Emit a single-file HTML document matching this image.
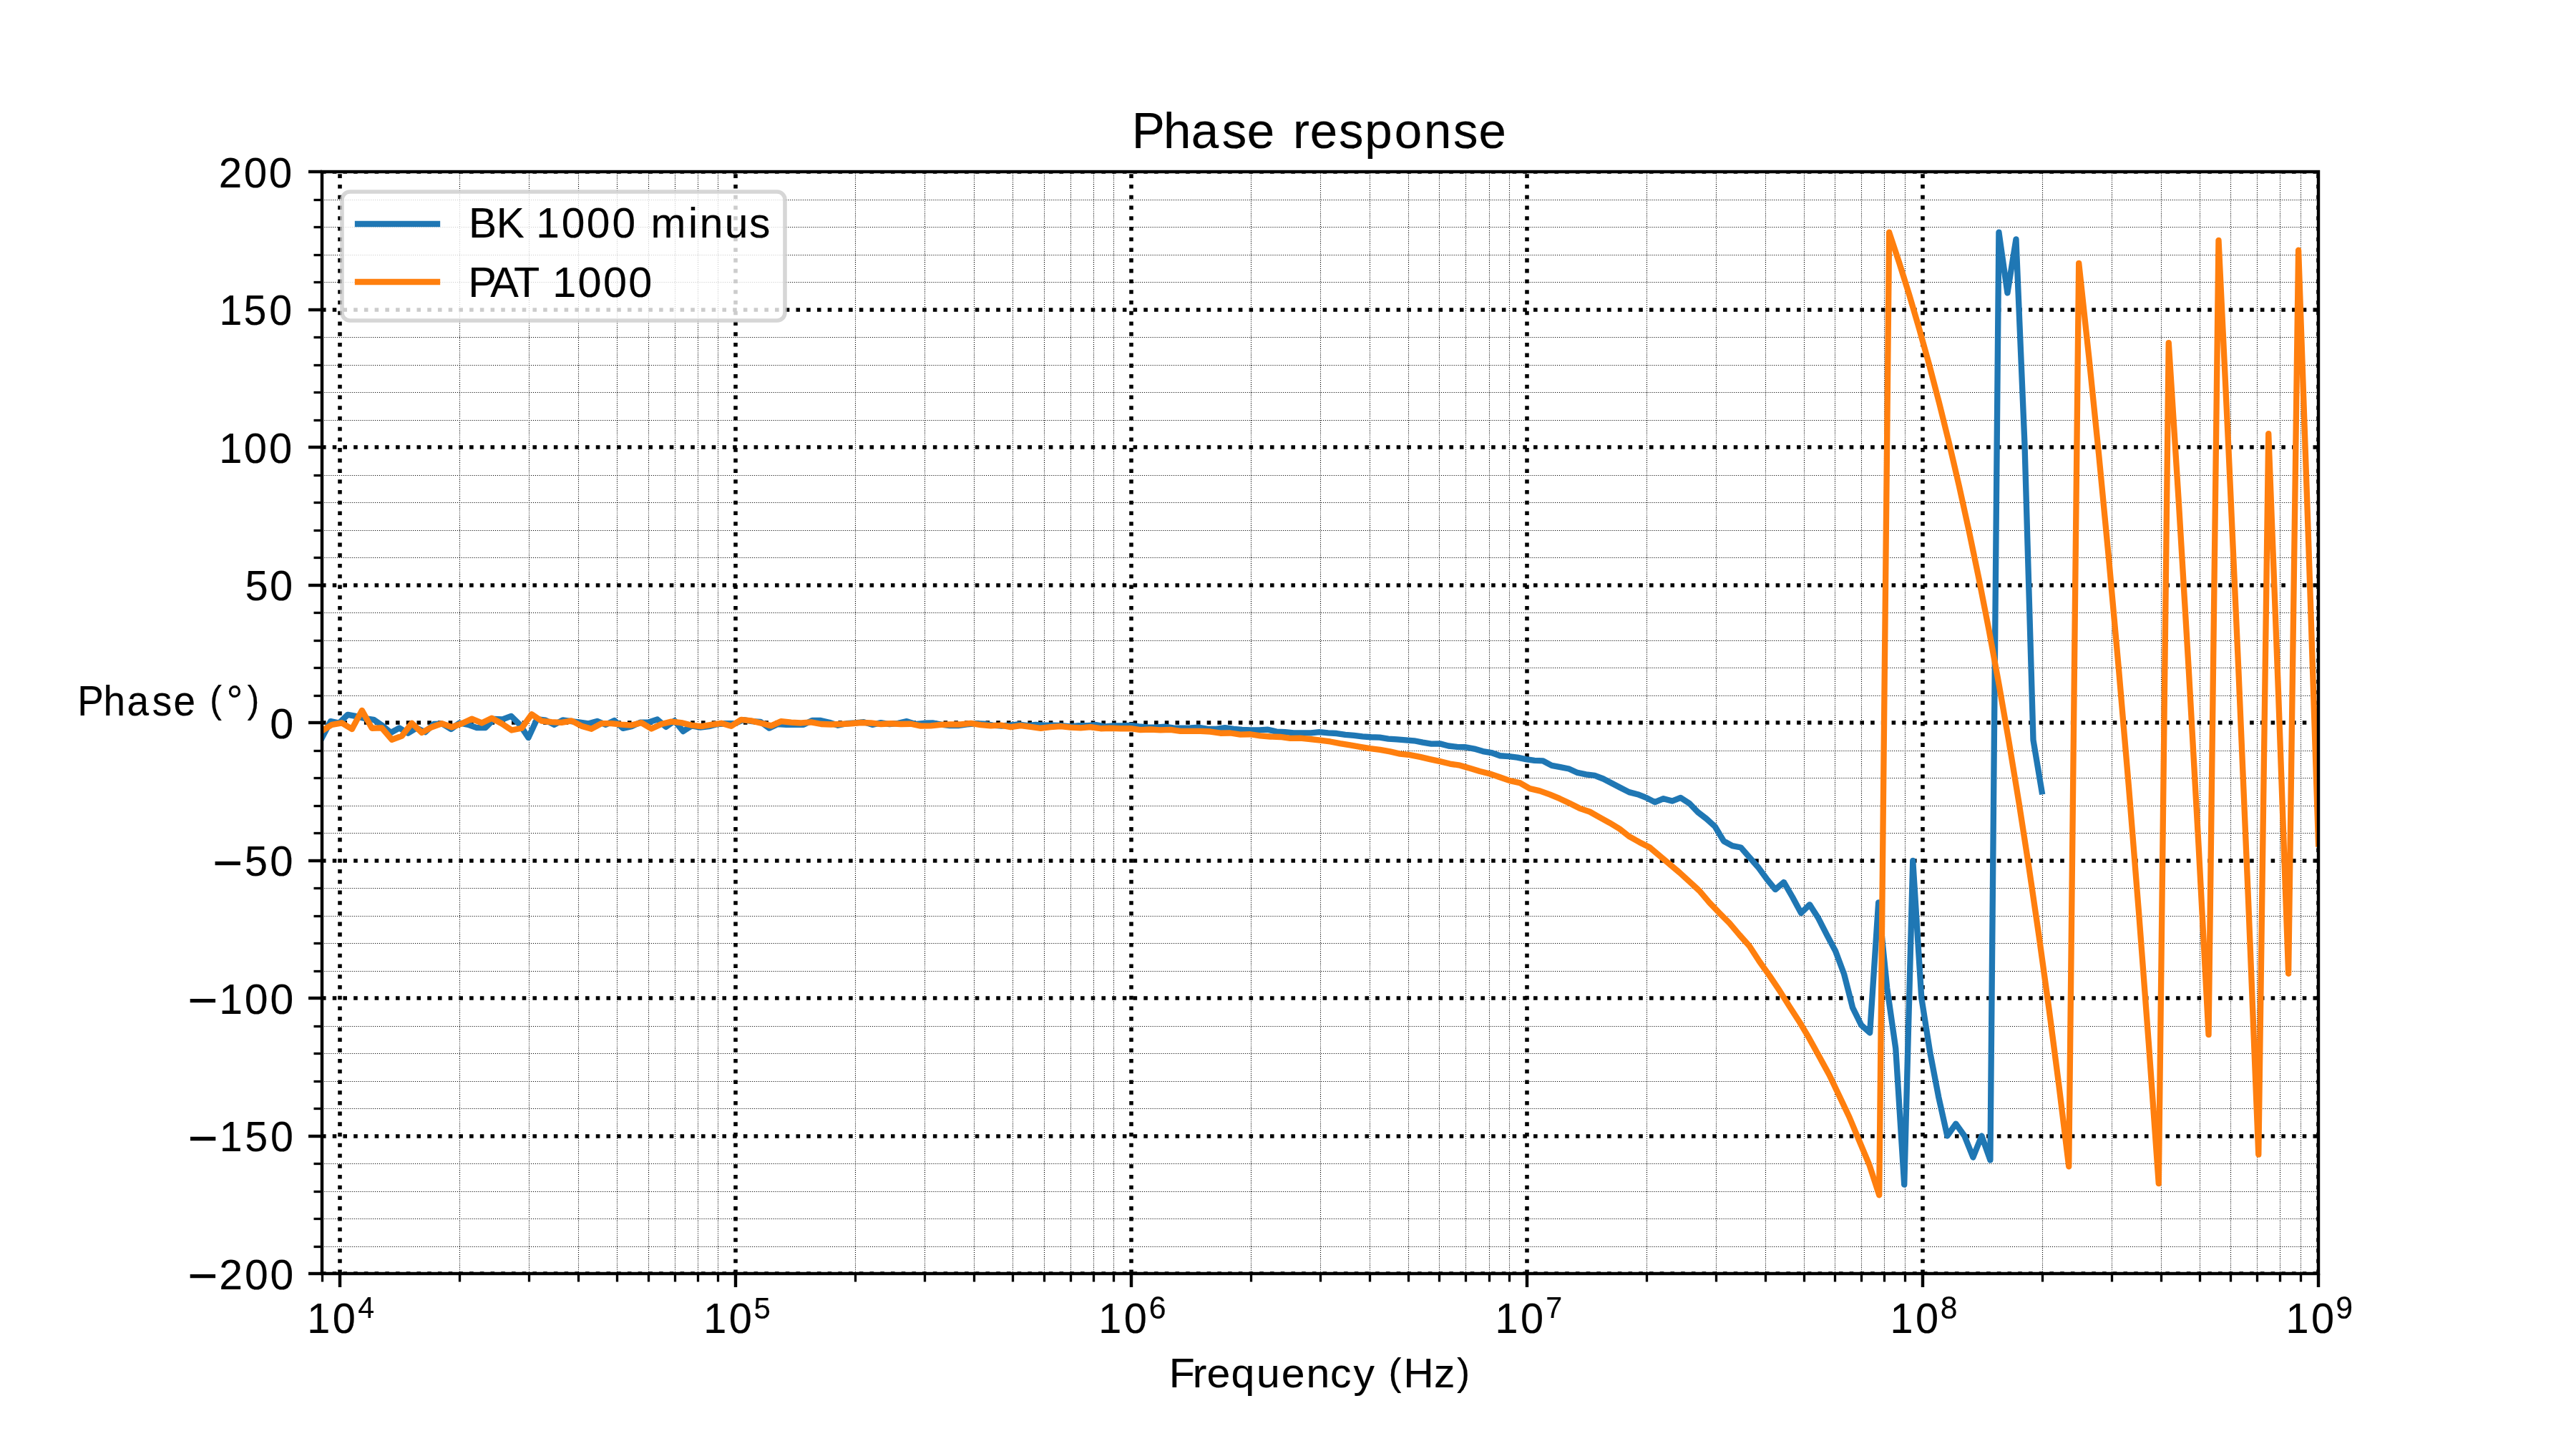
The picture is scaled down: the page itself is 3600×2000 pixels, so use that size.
<!DOCTYPE html>
<html><head><meta charset="utf-8"><title>Phase response</title>
<style>html,body{margin:0;padding:0;background:#fff}svg{display:block}text{font-family:"Liberation Sans",sans-serif}</style></head><body>
<svg width="3600" height="2000" viewBox="0 0 3600 2000">
<rect width="3600" height="2000" fill="#fff"/>
<defs><clipPath id="ax"><rect x="450.0" y="240.0" width="2790.0" height="1540.0"/></clipPath></defs>
<g clip-path="url(#ax)" fill="none">
<g stroke="#000" stroke-width="1.11111" stroke-dasharray="1.111111 1.833333">
<path d="M450.50 1780.5V240.0"/>
<path d="M642.50 1780.5V240.0"/>
<path d="M739.50 1780.5V240.0"/>
<path d="M808.50 1780.5V240.0"/>
<path d="M862.50 1780.5V240.0"/>
<path d="M906.50 1780.5V240.0"/>
<path d="M943.50 1780.5V240.0"/>
<path d="M975.50 1780.5V240.0"/>
<path d="M1003.50 1780.5V240.0"/>
<path d="M1195.50 1780.5V240.0"/>
<path d="M1292.50 1780.5V240.0"/>
<path d="M1361.50 1780.5V240.0"/>
<path d="M1415.50 1780.5V240.0"/>
<path d="M1459.50 1780.5V240.0"/>
<path d="M1496.50 1780.5V240.0"/>
<path d="M1528.50 1780.5V240.0"/>
<path d="M1556.50 1780.5V240.0"/>
<path d="M1748.50 1780.5V240.0"/>
<path d="M1845.50 1780.5V240.0"/>
<path d="M1914.50 1780.5V240.0"/>
<path d="M1968.50 1780.5V240.0"/>
<path d="M2011.50 1780.5V240.0"/>
<path d="M2048.50 1780.5V240.0"/>
<path d="M2081.50 1780.5V240.0"/>
<path d="M2109.50 1780.5V240.0"/>
<path d="M2301.50 1780.5V240.0"/>
<path d="M2398.50 1780.5V240.0"/>
<path d="M2467.50 1780.5V240.0"/>
<path d="M2521.50 1780.5V240.0"/>
<path d="M2564.50 1780.5V240.0"/>
<path d="M2601.50 1780.5V240.0"/>
<path d="M2633.50 1780.5V240.0"/>
<path d="M2662.50 1780.5V240.0"/>
<path d="M2854.50 1780.5V240.0"/>
<path d="M2951.50 1780.5V240.0"/>
<path d="M3020.50 1780.5V240.0"/>
<path d="M3074.50 1780.5V240.0"/>
<path d="M3117.50 1780.5V240.0"/>
<path d="M3154.50 1780.5V240.0"/>
<path d="M3186.50 1780.5V240.0"/>
<path d="M3215.50 1780.5V240.0"/>
<path d="M450.5 1742.50H3240.5"/>
<path d="M450.5 1703.50H3240.5"/>
<path d="M450.5 1665.50H3240.5"/>
<path d="M450.5 1626.50H3240.5"/>
<path d="M450.5 1549.50H3240.5"/>
<path d="M450.5 1511.50H3240.5"/>
<path d="M450.5 1472.50H3240.5"/>
<path d="M450.5 1434.50H3240.5"/>
<path d="M450.5 1357.50H3240.5"/>
<path d="M450.5 1318.50H3240.5"/>
<path d="M450.5 1280.50H3240.5"/>
<path d="M450.5 1241.50H3240.5"/>
<path d="M450.5 1164.50H3240.5"/>
<path d="M450.5 1126.50H3240.5"/>
<path d="M450.5 1087.50H3240.5"/>
<path d="M450.5 1049.50H3240.5"/>
<path d="M450.5 972.50H3240.5"/>
<path d="M450.5 933.50H3240.5"/>
<path d="M450.5 895.50H3240.5"/>
<path d="M450.5 856.50H3240.5"/>
<path d="M450.5 779.50H3240.5"/>
<path d="M450.5 741.50H3240.5"/>
<path d="M450.5 702.50H3240.5"/>
<path d="M450.5 664.50H3240.5"/>
<path d="M450.5 587.50H3240.5"/>
<path d="M450.5 548.50H3240.5"/>
<path d="M450.5 510.50H3240.5"/>
<path d="M450.5 471.50H3240.5"/>
<path d="M450.5 394.50H3240.5"/>
<path d="M450.5 356.50H3240.5"/>
<path d="M450.5 317.50H3240.5"/>
<path d="M450.5 279.50H3240.5"/>
</g>
<g stroke="#000" stroke-width="5.55556" stroke-dasharray="5.555556 9.166667">
<path d="M475.00 1780.0V240.0"/>
<path d="M1028.00 1780.0V240.0"/>
<path d="M1581.00 1780.0V240.0"/>
<path d="M2134.00 1780.0V240.0"/>
<path d="M2687.00 1780.0V240.0"/>
<path d="M3240.00 1780.0V240.0"/>
<path d="M450.0 1780.00H3240.0"/>
<path d="M450.0 1588.00H3240.0"/>
<path d="M450.0 1395.00H3240.0"/>
<path d="M450.0 1203.00H3240.0"/>
<path d="M450.0 1010.00H3240.0"/>
<path d="M450.0 818.00H3240.0"/>
<path d="M450.0 625.00H3240.0"/>
<path d="M450.0 433.00H3240.0"/>
<path d="M450.0 240.00H3240.0"/>
</g>
<path d="M450.00 1031.06L462.02 1008.14L474.04 1010.47L486.05 998.81L498.07 1001.15L510.09 1004.25L522.11 1005.79L534.12 1013.88L546.14 1023.98L558.16 1017.45L570.18 1024.72L582.19 1017.45L594.21 1023.17L606.23 1012.02L618.25 1011.61L630.26 1018.98L642.28 1010.47L654.30 1012.80L666.32 1017.14L678.33 1017.14L690.35 1005.03L702.37 1005.34L714.39 1000.87L726.40 1012.80L738.42 1030.93L750.44 1005.03L762.46 1006.58L774.47 1012.88L786.49 1006.49L798.51 1008.12L810.53 1009.68L822.54 1011.30L834.56 1007.97L846.58 1012.80L858.60 1007.08L870.61 1017.85L882.63 1015.12L894.65 1009.69L906.67 1009.38L918.68 1005.53L930.70 1015.90L942.72 1007.36L954.74 1022.12L966.76 1014.35L978.77 1016.69L990.79 1015.12L1002.81 1012.02L1014.83 1011.23L1026.84 1011.23L1038.86 1006.12L1050.88 1008.13L1062.90 1008.91L1074.91 1017.66L1086.93 1012.03L1098.95 1012.80L1110.97 1012.80L1122.98 1012.80L1135.00 1006.96L1147.02 1006.96L1159.04 1009.69L1171.05 1013.78L1183.07 1011.24L1195.09 1010.34L1207.11 1009.10L1219.12 1012.88L1231.14 1010.18L1243.16 1012.02L1255.18 1010.78L1267.19 1008.14L1279.21 1012.02L1291.23 1010.78L1303.25 1010.47L1315.26 1012.64L1327.28 1014.04L1339.30 1014.04L1351.32 1012.48L1363.33 1011.24L1375.35 1011.55L1387.37 1013.57L1399.39 1014.50L1411.40 1013.57L1423.42 1012.33L1435.44 1014.19L1447.46 1012.80L1459.47 1013.57L1471.49 1013.57L1483.51 1014.19L1495.53 1015.43L1507.55 1014.19L1519.56 1014.19L1531.58 1013.11L1543.60 1015.43L1555.62 1014.35L1567.63 1014.35L1579.65 1013.88L1591.67 1015.37L1603.69 1016.30L1615.70 1016.77L1627.72 1015.72L1639.74 1017.46L1651.76 1017.70L1663.77 1017.46L1675.79 1016.77L1687.81 1018.86L1699.83 1018.86L1711.84 1017.12L1723.86 1018.86L1735.88 1019.79L1747.90 1020.38L1759.91 1020.38L1771.93 1019.68L1783.95 1022.59L1795.97 1023.17L1807.98 1024.34L1820.00 1024.45L1832.02 1024.34L1844.04 1023.17L1856.05 1024.34L1868.07 1025.03L1880.09 1026.78L1892.11 1027.95L1904.12 1029.46L1916.14 1030.27L1928.16 1030.62L1940.18 1032.60L1952.19 1033.42L1964.21 1034.35L1976.23 1035.28L1988.25 1037.61L2000.27 1039.59L2012.28 1039.36L2024.30 1042.50L2036.32 1043.90L2048.34 1044.25L2060.35 1046.58L2072.37 1050.07L2084.39 1052.05L2096.41 1056.24L2108.42 1057.06L2120.44 1058.57L2132.46 1061.14L2144.48 1062.88L2156.49 1063.46L2168.51 1069.87L2180.53 1072.20L2192.55 1074.53L2204.56 1079.96L2216.58 1082.29L2228.60 1083.84L2240.62 1088.50L2252.63 1094.71L2264.65 1100.93L2276.67 1107.14L2288.69 1110.24L2300.70 1114.91L2312.72 1121.12L2324.74 1116.15L2336.76 1119.57L2348.77 1114.91L2360.79 1122.67L2372.81 1135.09L2384.83 1144.41L2396.84 1155.28L2408.86 1175.49L2420.88 1182.15L2432.90 1184.50L2444.91 1198.19L2456.93 1211.89L2468.95 1228.33L2480.97 1243.20L2492.98 1233.03L2505.00 1253.77L2517.02 1276.08L2529.04 1264.34L2541.06 1283.12L2553.07 1306.61L2565.09 1329.31L2577.11 1361.40L2589.13 1408.37L2601.14 1432.63L2613.16 1443.51L2625.18 1261.40L2637.20 1380.76L2649.21 1465.07L2661.23 1655.64L2673.25 1202.88L2685.27 1394.62L2697.28 1470.85L2709.30 1533.60L2721.32 1587.50L2733.34 1570.56L2745.35 1587.50L2757.37 1617.53L2769.39 1587.50L2781.41 1621.38L2793.42 324.70L2805.44 409.40L2817.46 334.32L2829.48 621.15L2841.49 1034.26L2853.51 1106.25" stroke="#1f77b4" stroke-width="8.333" stroke-linejoin="round" stroke-linecap="square"/>
<path d="M450.00 1021.34L463.95 1012.80L477.90 1010.47L491.85 1019.01L505.80 992.87L519.75 1017.76L533.70 1017.45L547.65 1033.76L561.60 1028.63L575.55 1010.65L589.50 1023.98L603.45 1016.21L617.40 1011.24L631.35 1016.21L645.30 1011.24L659.25 1004.72L673.20 1010.47L687.15 1003.75L701.10 1011.24L715.05 1020.48L729.00 1017.76L742.95 998.31L756.90 1007.62L770.85 1009.18L784.80 1009.95L798.75 1007.35L812.70 1014.66L826.65 1018.70L840.60 1011.15L854.55 1011.15L868.50 1012.60L882.45 1013.57L896.40 1010.15L910.35 1018.53L924.30 1012.01L938.25 1008.60L952.20 1010.15L966.15 1013.57L980.10 1015.12L994.05 1012.79L1008.00 1010.77L1021.95 1014.81L1035.90 1005.80L1049.85 1007.35L1063.80 1010.77L1077.75 1014.34L1091.70 1008.13L1105.65 1009.68L1119.60 1010.47L1133.55 1009.38L1147.50 1012.02L1161.45 1012.48L1175.40 1012.02L1189.35 1011.24L1203.30 1010.00L1217.25 1010.47L1231.20 1012.02L1245.15 1011.24L1259.10 1012.02L1273.05 1011.71L1287.00 1014.66L1300.95 1014.35L1314.90 1012.80L1328.85 1012.48L1342.80 1012.48L1356.75 1010.93L1370.70 1013.11L1384.65 1014.35L1398.60 1013.57L1412.55 1016.21L1426.50 1014.04L1440.45 1015.90L1454.40 1017.76L1468.35 1016.21L1482.30 1015.12L1496.25 1016.68L1510.20 1017.45L1524.15 1016.21L1538.10 1018.23L1552.05 1017.76L1566.00 1018.23L1579.95 1018.09L1593.90 1020.07L1607.85 1019.49L1621.80 1020.42L1635.75 1019.84L1649.70 1021.82L1663.65 1021.82L1677.60 1021.94L1691.55 1022.52L1705.50 1024.73L1719.45 1024.50L1733.40 1026.59L1747.35 1026.25L1761.30 1028.34L1775.25 1029.51L1789.20 1029.97L1803.15 1031.84L1817.10 1031.72L1831.05 1033.00L1845.00 1034.63L1858.95 1036.49L1872.90 1039.13L1886.85 1041.45L1900.80 1043.90L1914.75 1046.23L1928.70 1047.86L1942.65 1050.42L1956.60 1053.57L1970.55 1055.08L1984.50 1057.87L1998.45 1061.14L2012.40 1064.16L2026.35 1067.54L2040.30 1069.64L2054.25 1073.71L2068.20 1078.02L2082.15 1081.51L2096.10 1086.29L2110.05 1091.18L2124.00 1094.09L2137.95 1102.13L2151.90 1105.39L2165.85 1110.43L2179.80 1116.18L2193.75 1122.86L2207.70 1129.84L2221.65 1134.50L2235.60 1142.27L2249.55 1150.03L2263.50 1158.57L2277.45 1169.44L2291.40 1177.20L2305.35 1184.28L2319.30 1196.03L2333.25 1207.77L2347.20 1219.51L2361.15 1232.24L2375.10 1245.16L2389.05 1261.60L2403.00 1276.08L2416.95 1290.17L2430.90 1306.61L2444.85 1322.26L2458.80 1343.79L2472.75 1363.36L2486.70 1384.10L2500.65 1406.41L2514.60 1427.93L2528.55 1451.42L2542.50 1476.86L2556.45 1502.30L2570.40 1531.65L2584.35 1561.00L2598.30 1594.27L2612.25 1627.54L2626.20 1670.28L2640.15 324.70L2654.10 366.87L2668.05 411.58L2682.00 458.98L2695.95 509.23L2709.90 562.50L2723.85 618.99L2737.80 678.87L2751.75 742.35L2765.70 809.66L2779.65 881.01L2793.60 956.66L2807.55 1036.86L2821.50 1121.89L2835.45 1212.04L2849.40 1307.61L2863.35 1408.93L2877.30 1516.35L2891.25 1630.24L2905.20 367.82L2919.15 497.40L2933.10 634.86L2947.05 780.68L2961.00 935.37L2974.95 1099.47L2988.90 1273.54L3002.85 1458.21L3016.80 1654.11L3030.75 479.08L3044.70 699.88L3058.65 934.11L3072.60 1182.60L3086.55 1446.20L3100.50 335.87L3114.45 627.97L3128.40 937.60L3142.35 1265.80L3156.30 1613.68L3170.25 606.13L3184.20 973.16L3198.15 1360.74L3212.10 349.73L3226.05 754.07L3240.00 1179.40" stroke="#ff7f0e" stroke-width="8.333" stroke-linejoin="round" stroke-linecap="square"/>
</g>
<g stroke="#000" stroke-width="4.444" fill="none">
<path d="M475.00 1780.0v19.00"/>
<path d="M1028.00 1780.0v19.00"/>
<path d="M1581.00 1780.0v19.00"/>
<path d="M2134.00 1780.0v19.00"/>
<path d="M2687.00 1780.0v19.00"/>
<path d="M3240.00 1780.0v19.00"/>
<path d="M450.0 1780.00h-19.00"/>
<path d="M450.0 1588.00h-19.00"/>
<path d="M450.0 1395.00h-19.00"/>
<path d="M450.0 1203.00h-19.00"/>
<path d="M450.0 1010.00h-19.00"/>
<path d="M450.0 818.00h-19.00"/>
<path d="M450.0 625.00h-19.00"/>
<path d="M450.0 433.00h-19.00"/>
<path d="M450.0 240.00h-19.00"/>
</g>
<g stroke="#000" stroke-width="3.333" fill="none">
<path d="M450.50 1780.0v11.50"/>
<path d="M642.50 1780.0v11.50"/>
<path d="M739.50 1780.0v11.50"/>
<path d="M808.50 1780.0v11.50"/>
<path d="M862.50 1780.0v11.50"/>
<path d="M906.50 1780.0v11.50"/>
<path d="M943.50 1780.0v11.50"/>
<path d="M975.50 1780.0v11.50"/>
<path d="M1003.50 1780.0v11.50"/>
<path d="M1195.50 1780.0v11.50"/>
<path d="M1292.50 1780.0v11.50"/>
<path d="M1361.50 1780.0v11.50"/>
<path d="M1415.50 1780.0v11.50"/>
<path d="M1459.50 1780.0v11.50"/>
<path d="M1496.50 1780.0v11.50"/>
<path d="M1528.50 1780.0v11.50"/>
<path d="M1556.50 1780.0v11.50"/>
<path d="M1748.50 1780.0v11.50"/>
<path d="M1845.50 1780.0v11.50"/>
<path d="M1914.50 1780.0v11.50"/>
<path d="M1968.50 1780.0v11.50"/>
<path d="M2011.50 1780.0v11.50"/>
<path d="M2048.50 1780.0v11.50"/>
<path d="M2081.50 1780.0v11.50"/>
<path d="M2109.50 1780.0v11.50"/>
<path d="M2301.50 1780.0v11.50"/>
<path d="M2398.50 1780.0v11.50"/>
<path d="M2467.50 1780.0v11.50"/>
<path d="M2521.50 1780.0v11.50"/>
<path d="M2564.50 1780.0v11.50"/>
<path d="M2601.50 1780.0v11.50"/>
<path d="M2633.50 1780.0v11.50"/>
<path d="M2662.50 1780.0v11.50"/>
<path d="M2854.50 1780.0v11.50"/>
<path d="M2951.50 1780.0v11.50"/>
<path d="M3020.50 1780.0v11.50"/>
<path d="M3074.50 1780.0v11.50"/>
<path d="M3117.50 1780.0v11.50"/>
<path d="M3154.50 1780.0v11.50"/>
<path d="M3186.50 1780.0v11.50"/>
<path d="M3215.50 1780.0v11.50"/>
<path d="M450.0 1742.50h-11.50"/>
<path d="M450.0 1703.50h-11.50"/>
<path d="M450.0 1665.50h-11.50"/>
<path d="M450.0 1626.50h-11.50"/>
<path d="M450.0 1549.50h-11.50"/>
<path d="M450.0 1511.50h-11.50"/>
<path d="M450.0 1472.50h-11.50"/>
<path d="M450.0 1434.50h-11.50"/>
<path d="M450.0 1357.50h-11.50"/>
<path d="M450.0 1318.50h-11.50"/>
<path d="M450.0 1280.50h-11.50"/>
<path d="M450.0 1241.50h-11.50"/>
<path d="M450.0 1164.50h-11.50"/>
<path d="M450.0 1126.50h-11.50"/>
<path d="M450.0 1087.50h-11.50"/>
<path d="M450.0 1049.50h-11.50"/>
<path d="M450.0 972.50h-11.50"/>
<path d="M450.0 933.50h-11.50"/>
<path d="M450.0 895.50h-11.50"/>
<path d="M450.0 856.50h-11.50"/>
<path d="M450.0 779.50h-11.50"/>
<path d="M450.0 741.50h-11.50"/>
<path d="M450.0 702.50h-11.50"/>
<path d="M450.0 664.50h-11.50"/>
<path d="M450.0 587.50h-11.50"/>
<path d="M450.0 548.50h-11.50"/>
<path d="M450.0 510.50h-11.50"/>
<path d="M450.0 471.50h-11.50"/>
<path d="M450.0 394.50h-11.50"/>
<path d="M450.0 356.50h-11.50"/>
<path d="M450.0 317.50h-11.50"/>
<path d="M450.0 279.50h-11.50"/>
</g>
<rect x="450.0" y="240.0" width="2790.0" height="1540.0" fill="none" stroke="#000" stroke-width="4.444"/>
<rect x="478.0" y="268.0" width="619.0" height="180.0" rx="11.1" ry="11.1" fill="#fff" fill-opacity="0.8" stroke="#ccc" stroke-opacity="0.8" stroke-width="5.556"/>
<path d="M500 313H611" stroke="#1f77b4" stroke-width="8.333" stroke-linecap="square"/>
<path d="M500 394H611" stroke="#ff7f0e" stroke-width="8.333" stroke-linecap="square"/>
<g opacity="0.999" stroke="#000" stroke-width="0.3" stroke-linejoin="round">
<text transform="translate(0,332.22) scale(0.5868,0.5863)" font-size="100" xml:space="preserve"><tspan x="1116.45 1182.48 1229.56 1276.65 1337.22 1397.15 1458.09 1504.08 1550.08 1639.61 1666.16 1726.06 1784.22" y="0.00">BK 1000 minus</tspan></text>
<text transform="translate(0,414.61) scale(0.5934,0.5961)" font-size="100" xml:space="preserve"><tspan x="1102.55 1154.72 1210.00 1255.69 1301.38 1360.92 1420.68 1480.16" y="0.00">PAT 1000</tspan></text>
<text transform="translate(0,207.29) scale(0.6906,0.7111)" font-size="100" xml:space="preserve"><tspan x="2290.52 2354.46 2410.50 2472.80 2523.61 2570.16 2616.71 2650.94 2709.09 2761.91 2821.67 2881.64 2940.76 2992.48" y="0.00">Phase response</tspan></text>
<text transform="translate(0,1939.42) scale(0.5890,0.5813)" font-size="100" xml:space="preserve"><tspan x="2773.73 2829.67 2863.19 2921.17 2981.17 3040.16 3099.23 3156.02 3211.39 3252.90" y="0.00">Frequency </tspan><tspan x="3294.42" y="-6.10" font-size="92.24">(</tspan><tspan x="3329.85 3402.38" y="0.00">Hz</tspan><tspan x="3456.93" y="-6.10" font-size="92.24">)</tspan></text>
<text transform="translate(0,999.61) scale(0.5496,0.5854)" font-size="100" xml:space="preserve"><tspan x="197.10 262.98 322.96 387.19 441.33 487.49" y="0.00">Phase </tspan><tspan x="533.65" y="-6.39" font-size="91.60">(</tspan><tspan x="575.83" y="1.90" font-size="104.66">°</tspan><tspan x="628.52" y="-6.39" font-size="91.60">)</tspan></text>
<text transform="translate(0,1801.61) scale(0.5886,0.5937)" font-size="100" xml:space="preserve"><tspan x="445.57" y="10.23" font-size="122.98">−</tspan><tspan x="520.14 581.17 641.28" y="0.00">200</tspan></text>
<text transform="translate(0,1609.22) scale(0.5738,0.5861)" font-size="100" xml:space="preserve"><tspan x="457.08" y="11.56" font-size="126.16">−</tspan><tspan x="534.67 596.36 658.57" y="0.00">150</tspan></text>
<text transform="translate(0,1416.62) scale(0.5891,0.5928)" font-size="100" xml:space="preserve"><tspan x="445.21" y="10.15" font-size="122.89">−</tspan><tspan x="520.02 580.15 640.63" y="0.00">100</tspan></text>
<text transform="translate(0,1224.12) scale(0.5794,0.5866)" font-size="100" xml:space="preserve"><tspan x="513.06" y="11.35" font-size="124.94">−</tspan><tspan x="589.96 651.27" y="0.00">50</tspan></text>
<text transform="translate(0,1031.61) scale(0.5941,0.5966)" font-size="100" xml:space="preserve"><tspan x="634.99" y="0.00">0</tspan></text>
<text transform="translate(0,839.11) scale(0.5774,0.5864)" font-size="100" xml:space="preserve"><tspan x="593.11 652.73" y="0.00">50</tspan></text>
<text transform="translate(0,646.61) scale(0.5792,0.5927)" font-size="100" xml:space="preserve"><tspan x="528.67 588.42 649.05" y="0.00">100</tspan></text>
<text transform="translate(0,454.22) scale(0.5731,0.5860)" font-size="100" xml:space="preserve"><tspan x="534.63 594.35 656.39" y="0.00">150</tspan></text>
<text transform="translate(0,261.60) scale(0.5833,0.5936)" font-size="100" xml:space="preserve"><tspan x="524.30 584.18 644.39" y="0.00">200</tspan></text>
<text transform="translate(0,1863.42) scale(0.5769,0.5909)" font-size="100" xml:space="preserve"><tspan x="744.14 805.63" y="0.00">10</tspan><tspan x="867.01" y="-36.25" font-size="71.39">4</tspan></text>
<text transform="translate(0,1863.42) scale(0.5769,0.5909)" font-size="100" xml:space="preserve"><tspan x="1704.51 1766.01" y="0.00">10</tspan><tspan x="1826.14" y="-35.28" font-size="72.79">5</tspan></text>
<text transform="translate(0,1863.42) scale(0.5769,0.5909)" font-size="100" xml:space="preserve"><tspan x="2661.42 2722.91" y="0.00">10</tspan><tspan x="2783.22" y="-35.30" font-size="74.15">6</tspan></text>
<text transform="translate(0,1863.42) scale(0.5769,0.5909)" font-size="100" xml:space="preserve"><tspan x="3621.79 3683.29" y="0.00">10</tspan><tspan x="3744.54" y="-36.25" font-size="71.39">7</tspan></text>
<text transform="translate(0,1863.42) scale(0.5769,0.5909)" font-size="100" xml:space="preserve"><tspan x="4578.70 4640.20" y="0.00">10</tspan><tspan x="4700.47" y="-35.30" font-size="74.15">8</tspan></text>
<text transform="translate(0,1863.42) scale(0.5769,0.5909)" font-size="100" xml:space="preserve"><tspan x="5537.34 5598.84" y="0.00">10</tspan><tspan x="5658.46" y="-35.30" font-size="74.15">9</tspan></text>
</g>
</svg></body></html>
